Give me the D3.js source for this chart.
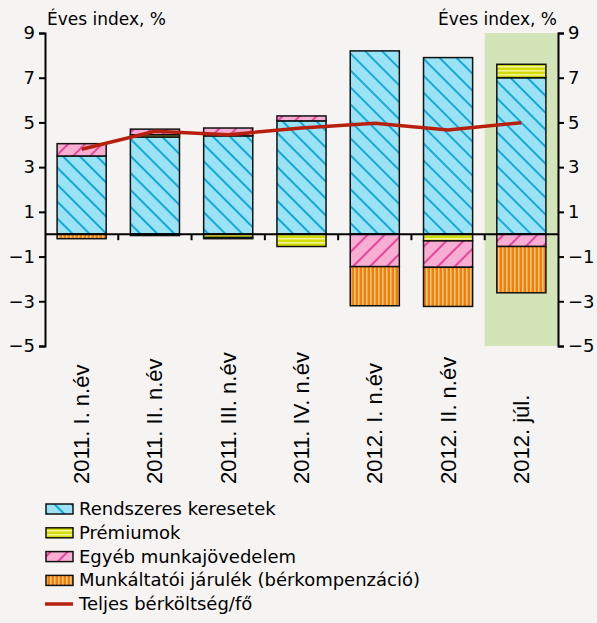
<!DOCTYPE html>
<html>
<head>
<meta charset="utf-8">
<script src="https://cdn.jsdelivr.net/npm/d3@7"></script>
<style>
  body { margin: 0; background: #f5f4f2; }
  svg text { font-family: "DejaVu Sans", sans-serif; fill: #000; }
</style>
</head>
<body>
<div id="chart"></div>
<script>
const categories = ["2011. I. n.év", "2011. II. n.év", "2011. III. n.év", "2011. IV. n.év", "2012. I. n.év", "2012. II. n.év", "2012. júl."];
const rendszeres = [3.5, 4.35, 4.4, 5.07, 8.2, 7.9, 7.0];
const premium = [0, 0.1, -0.15, -0.55, 0, -0.3, 0.6];
const egyeb = [0.55, 0.25, 0.35, 0.22, -1.45, -1.18, -0.55];
const munkaltatoi = [-0.2, -0.06, -0.05, 0, -1.75, -1.75, -2.07];
const teljes = [3.8, 4.6, 4.45, 4.75, 4.96, 4.66, 4.99];
const yTicks = [-5, -3, -1, 1, 3, 5, 7, 9];
const seriesNames = ["Rendszeres keresetek", "Prémiumok", "Egyéb munkajövedelem", "Munkáltatói járulék (bérkompenzáció)"];
const lineName = "Teljes bérköltség/fő";

const width = 597;
const height = 623;
const mLeft = 45, mRight = 558, mTop = 33, mBottom = 346;

const svg = d3.select("#chart").append("svg")
    .attr("width", width)
    .attr("height", height);

// patterns
const defs = svg.append("defs");
function diag(id, bg, fg, dir){
    const p = defs.append("pattern").attr("id", id)
        .attr("patternUnits", "userSpaceOnUse")
        .attr("width", 12).attr("height", 12)
        .attr("patternTransform", "rotate(" + dir + ")");
    p.append("rect").attr("width", 12).attr("height", 12).attr("fill", bg);
    p.append("line").attr("x1", 6).attr("y1", 0).attr("x2", 6).attr("y2", 12)
        .attr("stroke", fg).attr("stroke-width", 2);
}
diag("pat0", "#9ae2f4", "#12a9da", -45);
diag("pat2", "#f8aed2", "#e8449a", 45);
const py = defs.append("pattern").attr("id", "pat1")
    .attr("patternUnits", "userSpaceOnUse").attr("width", 4).attr("height", 4);
py.append("rect").attr("width", 4).attr("height", 4).attr("fill", "#d2dc00");
py.append("rect").attr("y", 2).attr("width", 4).attr("height", 1.5).attr("fill", "#f4f4a0");
const po = defs.append("pattern").attr("id", "pat3")
    .attr("patternUnits", "userSpaceOnUse").attr("width", 4).attr("height", 4);
po.append("rect").attr("width", 4).attr("height", 4).attr("fill", "#f47e00");
po.append("rect").attr("x", 2).attr("width", 1.5).attr("height", 4).attr("fill", "#fcc890");

const x = d3.scaleBand().domain(categories).range([mLeft, mRight])
    .paddingInner(0.33).paddingOuter(0.165);
const y = d3.scaleLinear().domain([-5, 9]).range([mBottom, mTop]);

// highlighted period
svg.append("rect")
    .attr("x", mLeft + x.step() * 6)
    .attr("y", y(9))
    .attr("width", mRight - (mLeft + x.step() * 6))
    .attr("height", y(-5) - y(9))
    .attr("fill", "#d4e4b9");

const table = categories.map((c, i) => ({cat: c, s0: rendszeres[i], s1: premium[i], s2: egyeb[i], s3: munkaltatoi[i]}));
const stack = d3.stack().keys(["s0", "s1", "s2", "s3"]).offset(d3.stackOffsetDiverging);
const layers = stack(table);

svg.selectAll("g.layer")
    .data(layers)
    .enter().append("g")
    .attr("class", "layer")
    .attr("fill", (d, i) => "url(#pat" + i + ")")
    .selectAll("rect")
    .data(d => d.filter(v => v[1] - v[0] !== 0))
    .enter().append("rect")
    .attr("x", d => x(d.data.cat))
    .attr("y", d => y(Math.max(d[0], d[1])))
    .attr("width", x.bandwidth())
    .attr("height", d => Math.abs(y(d[0]) - y(d[1])))
    .attr("stroke", "#111")
    .attr("stroke-width", 1.5);

// zero line and ticks
svg.append("line").attr("x1", mLeft).attr("x2", mRight)
    .attr("y1", y(0)).attr("y2", y(0))
    .attr("stroke", "#000").attr("stroke-width", 2);
for(let i = 1; i < categories.length; ++i){
    svg.append("line")
        .attr("x1", mLeft + x.step() * i).attr("x2", mLeft + x.step() * i)
        .attr("y1", y(0)).attr("y2", y(0) + 6)
        .attr("stroke", "#000").attr("stroke-width", 2);
}

// total line
const line = d3.line().x((d, i) => x(categories[i]) + x.bandwidth() / 2).y(d => y(d));
svg.append("path").datum(teljes)
    .attr("d", line)
    .attr("fill", "none")
    .attr("stroke", "#b8200e")
    .attr("stroke-width", 3.5);

// axes
const fmt = d => d < 0 ? "\u2212" + Math.abs(d) : String(d);
const yl = svg.append("g").attr("transform", "translate(" + mLeft + ",0)")
    .call(d3.axisLeft(y).tickValues(yTicks).tickFormat(fmt).tickSize(6).tickPadding(4));
const yr = svg.append("g").attr("transform", "translate(" + mRight + ",0)")
    .call(d3.axisRight(y).tickValues(yTicks).tickFormat(fmt).tickSize(6).tickPadding(4));
[yl, yr].forEach(g => {
    g.select(".domain").attr("stroke-width", 2);
    g.selectAll(".tick line").attr("stroke-width", 2);
    g.selectAll("text").attr("font-size", 18).attr("font-family", null);
});

svg.append("text").attr("x", 47).attr("y", 25).attr("font-size", 17).text("Éves index, %");
svg.append("text").attr("x", 557).attr("y", 25).attr("font-size", 17)
    .attr("text-anchor", "end").text("Éves index, %");

// category labels
svg.selectAll("text.cat")
    .data(categories)
    .enter().append("text")
    .attr("class", "cat")
    .style("font-family", "'Liberation Sans', Arial, sans-serif")
    .attr("font-size", 22)
    .attr("text-anchor", "start")
    .attr("transform", d => "translate(" + (x(d) + x.bandwidth() / 2 + 7.5) + ",484) rotate(-90)")
    .text(d => d);

// legend
const leg = svg.append("g");
seriesNames.forEach((n, i) => {
    const cy = 509 + i * 23.8;
    leg.append("rect").attr("x", 46).attr("y", cy - 5).attr("width", 27).attr("height", 10)
        .attr("fill", "url(#pat" + i + ")").attr("stroke", "#111").attr("stroke-width", 1.5);
    leg.append("text").attr("x", 79).attr("y", cy + 6).attr("font-size", 18).text(n);
});
leg.append("line").attr("x1", 45).attr("x2", 73).attr("y1", 604).attr("y2", 604)
    .attr("stroke", "#b8200e").attr("stroke-width", 3.5);
leg.append("text").attr("x", 79).attr("y", 610).attr("font-size", 18).text(lineName);
</script>
</body>
</html>
